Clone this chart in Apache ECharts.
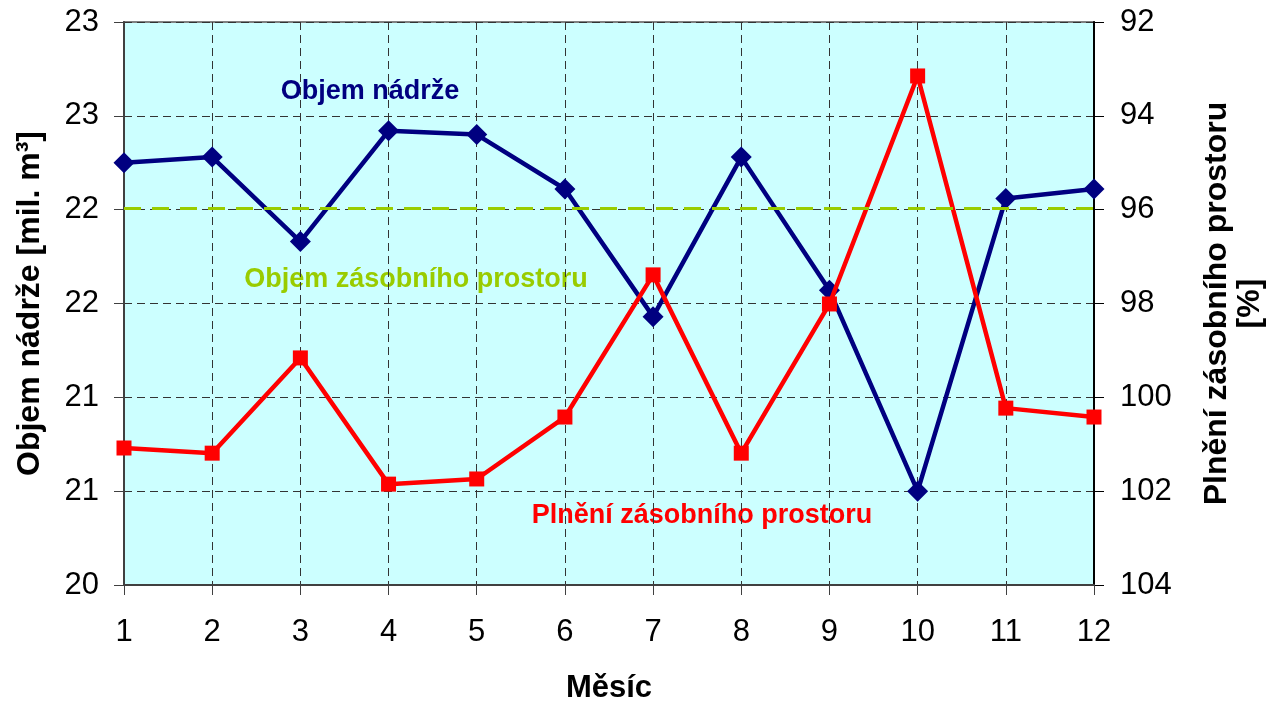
<!DOCTYPE html>
<html>
<head>
<meta charset="utf-8">
<title>Objem nádrže a plnění zásobního prostoru</title>
<script src="https://cdn.jsdelivr.net/npm/echarts@6/dist/echarts.min.js"></script>
<style>
  html, body { margin: 0; padding: 0; background: #ffffff; }
  #chart { width: 1273px; height: 704px; }
</style>
</head>
<body>
<div id="chart"></div>
<script>
// Months of the year
const months = ['1', '2', '3', '4', '5', '6', '7', '8', '9', '10', '11', '12'];

// Reservoir volume [mil. m3] (left axis)
const reservoirVolume = [22.25, 22.28, 21.83, 22.42, 22.40, 22.11, 21.43, 22.28, 21.57, 20.50, 22.06, 22.11];

// Fill of the storage space [%] (right axis, inverted)
const storageFill = [101.08, 101.19, 99.16, 101.85, 101.74, 100.42, 97.39, 101.19, 98.01, 93.15, 100.23, 100.42];

// Volume of the storage space [mil. m3]
const storageVolume = 22.01;

// Axis ranges
const leftAxisRange = { min: 20, max: 23, interval: 0.5 };
const rightAxisRange = { min: 92, max: 104, interval: 2 };

const FONT = '"Liberation Sans", Arial, sans-serif';
const gridDash = { type: [8, 5], color: '#333333', width: 1 };

const chart = echarts.init(document.getElementById('chart'), null, { renderer: 'canvas' });

chart.setOption({
  animation: false,
  backgroundColor: '#ffffff',
  textStyle: { fontFamily: FONT },
  grid: {
    left: 124, right: 179, top: 22, bottom: 119,
    outerBoundsMode: 'none',
    containLabel: false,
    show: true,
    backgroundColor: '#CCFFFF',
    borderColor: '#808080',
    borderWidth: 2
  },
  xAxis: {
    type: 'category',
    data: months,
    boundaryGap: false,
    name: 'Měsíc',
    nameLocation: 'middle',
    nameGap: 88,
    nameTextStyle: { fontFamily: FONT, fontSize: 31, fontWeight: 'bold', color: '#000' },
    axisLine: { lineStyle: { color: '#404040', width: 2 } },
    axisTick: { show: true, length: 10, lineStyle: { color: '#404040', width: 1 } },
    axisLabel: { fontFamily: FONT, fontSize: 31, color: '#000', margin: 32 },
    splitLine: { show: true, lineStyle: gridDash }
  },
  yAxis: [
    {
      type: 'value',
      position: 'left',
      min: leftAxisRange.min,
      max: leftAxisRange.max,
      interval: leftAxisRange.interval,
      name: 'Objem nádrže [mil. m³]',
      nameLocation: 'middle',
      nameGap: 78,
      nameTextStyle: { fontFamily: FONT, fontSize: 32, fontWeight: 'bold', color: '#000' },
      axisLine: { show: true, lineStyle: { color: '#404040', width: 2 } },
      axisTick: { show: true, length: 10, lineStyle: { color: '#404040', width: 1 } },
      axisLabel: {
        fontFamily: FONT, fontSize: 31, color: '#000', margin: 25,
        formatter: v => String(Math.round(v))
      },
      splitLine: { show: true, lineStyle: gridDash }
    },
    {
      type: 'value',
      position: 'right',
      inverse: true,
      min: rightAxisRange.min,
      max: rightAxisRange.max,
      interval: rightAxisRange.interval,
      name: 'Plnění zásobního prostoru\n[%]',
      nameLocation: 'middle',
      nameGap: 107,
      nameRotate: 90,
      nameTextStyle: { fontFamily: FONT, fontSize: 32, fontWeight: 'bold', color: '#000', lineHeight: 33, align: 'center' },
      axisLine: { show: true, lineStyle: { color: '#000', width: 2 } },
      axisTick: { show: true, length: 10, lineStyle: { color: '#000', width: 1 } },
      axisLabel: { fontFamily: FONT, fontSize: 31, color: '#000', margin: 26 },
      splitLine: { show: false }
    }
  ],
  series: [
    {
      name: 'Objem nádrže',
      type: 'line',
      yAxisIndex: 0,
      data: reservoirVolume,
      symbol: 'diamond',
      symbolSize: 21,
      lineStyle: { color: '#000080', width: 4.5 },
      itemStyle: { color: '#000080' },
      z: 3,
      markLine: {
        silent: true,
        symbol: 'none',
        label: { show: false },
        lineStyle: { color: '#99CC00', width: 3, type: [17, 11] },
        data: [{ yAxis: storageVolume }]
      }
    },
    {
      name: 'Plnění zásobního prostoru',
      type: 'line',
      yAxisIndex: 1,
      data: storageFill,
      symbol: 'rect',
      symbolSize: 15,
      lineStyle: { color: '#FF0000', width: 4.5 },
      itemStyle: { color: '#FF0000' },
      z: 4
    }
  ],
  graphic: [
    {
      type: 'text', x: 370, y: 92,
      style: { text: 'Objem nádrže', fill: '#000080', font: 'bold 27px ' + FONT, align: 'center', verticalAlign: 'middle' }
    },
    {
      type: 'text', x: 416, y: 280,
      style: { text: 'Objem zásobního prostoru', fill: '#99CC00', font: 'bold 27px ' + FONT, align: 'center', verticalAlign: 'middle' }
    },
    {
      type: 'text', x: 702, y: 516,
      style: { text: 'Plnění zásobního prostoru', fill: '#FF0000', font: 'bold 27px ' + FONT, align: 'center', verticalAlign: 'middle' }
    }
  ]
});
</script>
</body>
</html>
